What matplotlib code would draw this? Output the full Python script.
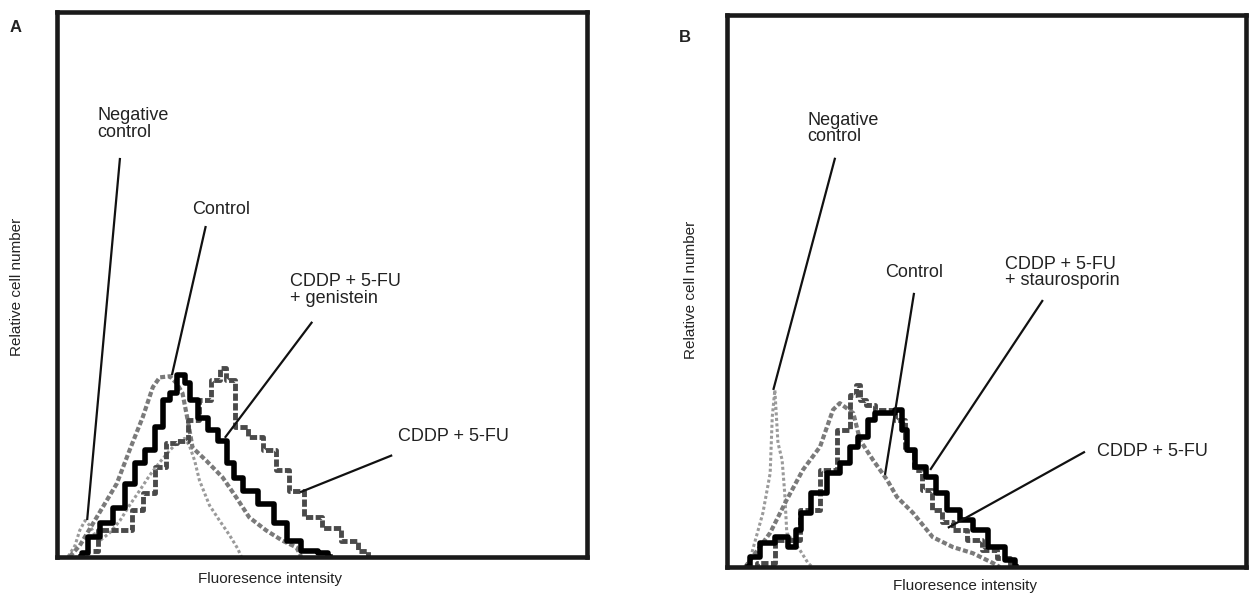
import numpy as np
import matplotlib
matplotlib.use("Agg")
import matplotlib.pyplot as plt

plt.rcParams["font.family"] = ["Liberation Sans", "DejaVu Sans"]

# ---- panel A histograms (fluorescence channel, relative cell number) ----
a_neg_x = [2.1, 3.4, 4.3, 5.3, 6.2, 7.2, 8.1, 10.0, 11.9, 13.7, 15.6, 17.5, 19.4,
           21.3, 22.8, 24.1, 25.0, 26.0, 26.9, 28.8, 30.7, 32.6, 34.1, 34.8]
a_neg_y = [0, 2.0, 4.8, 6.6, 5.7, 3.9, 2.9, 4.4, 6.6, 9.4, 12.1, 14.9, 17.3,
           19.5, 21.0, 21.7, 20.4, 17.6, 14.0, 9.4, 6.6, 3.9, 1.5, 0]

a_ctrl_x = [2.4, 4.3, 7.5, 11.3, 13.7, 16.2, 18.1, 19.4, 21.3, 22.6, 23.7, 24.7,
            25.6, 28.2, 31.3, 33.9, 36.3, 39.5, 42.6, 45.2, 46.1]
a_ctrl_y = [0, 2.0, 7.2, 13.4, 19.5, 25.6, 31.1, 32.9, 33.1, 31.8, 30.0, 25.0,
            20.0, 17.6, 14.5, 10.8, 7.2, 4.8, 2.9, 1.7, 0]

a_gen_x = [4.5, 4.9, 6.8, 9.4, 11.9, 13.7, 15.6, 17.5, 19.4, 20.7, 21.8, 23.7,
           24.5, 25.6, 27.5, 29.4, 31.3, 33.1, 33.9, 36.3, 39.5, 42.6, 44.4,
           47.6, 50.8, 51.5]
a_gen_y = [0, 0.6, 3.5, 6.1, 9.0, 13.4, 17.1, 19.5, 23.7, 28.7, 30.0, 33.3,
           31.8, 28.7, 25.5, 23.2, 21.3, 17.1, 14.5, 12.1, 9.7, 6.1, 2.9,
           1.1, 0.6, 0]

a_cf_x = [6.8, 8.7, 13.2, 15.1, 17.5, 19.4, 21.8, 23.7, 25.6, 28.2, 30.1, 31.3,
          32.6, 34.5, 37.7, 40.1, 42.6, 45.2, 48.2, 52.0, 55.2, 58.4, 58.9]
a_cf_y = [1.1, 4.8, 4.8, 8.5, 11.6, 16.4, 20.8, 21.3, 25.0, 28.7, 32.4, 34.7,
          32.4, 23.7, 21.9, 19.5, 15.8, 12.1, 7.2, 5.3, 2.9, 1.1, 0]

# ---- panel B histograms ----
b_neg_x = [3.6, 4.5, 7.0, 8.4, 8.8, 9.3, 9.9, 10.7, 11.2, 11.6, 14.1, 15.7, 16.5]
b_neg_y = [0, 1.3, 9.8, 17.0, 27.2, 32.1, 22.5, 19.4, 13.4, 6.2, 3.1, 0.7, 0]

b_ctrl_x = [3.6, 8.4, 11.6, 14.7, 18.0, 20.5, 21.8, 24.4, 25.7, 28.2, 30.9,
            32.8, 35.9, 39.7, 43.6, 47.4, 51.3, 52.6]
b_ctrl_y = [0, 6.2, 12.2, 17.6, 21.8, 28.5, 29.7, 27.9, 23.0, 19.4, 15.8,
            12.7, 9.8, 5.4, 3.6, 2.5, 0.7, 0]

b_stau_x = [4.1, 5.1, 7.8, 10.7, 12.8, 13.8, 14.7, 18.0, 20.5, 23.2, 24.4, 26.3,
            28.2, 29.0, 31.5, 33.4, 34.0, 35.3, 37.2, 39.7, 41.1, 43.6, 46.2,
            48.8, 52.0, 55.2, 55.7]
b_stau_y = [0, 1.8, 4.4, 5.4, 3.6, 6.7, 9.8, 13.4, 17.0, 18.9, 21.8, 23.6,
            26.7, 27.9, 27.9, 28.5, 24.9, 21.2, 18.1, 16.3, 13.4, 10.3, 8.5,
            6.7, 3.6, 1.3, 0]

b_cf_x = [5.5, 6.4, 12.2, 16.1, 19.9, 22.8, 24.7, 25.3, 26.1, 27.6, 29.5, 31.5,
          33.4, 35.3, 36.7, 38.6, 40.5, 42.4, 44.9, 47.8, 50.7, 53.6, 55.5]
b_cf_y = [0, 0.7, 4.9, 10.3, 17.6, 24.8, 31.2, 33.0, 30.3, 29.4, 28.5, 28.5,
          26.7, 21.2, 17.6, 14.0, 10.3, 8.2, 6.7, 4.9, 3.1, 1.6, 0.4]

STY_NEG = dict(color="#9a9a9a", lw=2.2, ls=(0, (1, 0.8)), drawstyle="default")
STY_CTRL = dict(color="#7a7a7a", lw=3.0, ls=(0, (1.2, 0.6)), drawstyle="default")
STY_BOLD = dict(color="black", lw=4.0, ls="-", drawstyle="steps-mid")
STY_CF = dict(color="#4a4a4a", lw=3.5, ls=(0, (1.5, 0.5)), drawstyle="steps-mid")

TXT = 13


def frame(ax):
    ax.set_xlim(0, 100)
    ax.set_ylim(0, 100)
    ax.set_xticks([])
    ax.set_yticks([])
    for s in ax.spines.values():
        s.set_linewidth(3.3)
        s.set_color("#1a1a1a")


def pointer(ax, text, tpos, start, end, va="top"):
    ax.text(tpos[0], tpos[1], text, fontsize=TXT, va=va, ha="left",
            color="#222222", linespacing=0.95)
    ax.plot([start[0], end[0]], [start[1], end[1]], color="#111111", lw=1.6,
            solid_capstyle="butt")


fig = plt.figure(figsize=(12.52, 5.94), dpi=100)

axA = fig.add_axes([0.0455, 0.0631, 0.4230, 0.9167])
frame(axA)
axA.plot(a_neg_x, a_neg_y, **STY_NEG)
axA.plot(a_ctrl_x, a_ctrl_y, **STY_CTRL)
axA.plot(a_cf_x, a_cf_y, **STY_CF)
axA.plot(a_gen_x, a_gen_y, **STY_BOLD)
pointer(axA, "Negative\ncontrol", (7.7, 82.5), (11.9, 73.2), (5.7, 6.7))
pointer(axA, "Control", (25.5, 65.3), (28.1, 60.7), (21.7, 33.3))
pointer(axA, "CDDP + 5-FU\n+ genistein", (44.0, 52.0), (48.2, 43.1), (31.7, 21.8))
pointer(axA, "CDDP + 5-FU", (64.4, 22.0), (63.3, 18.6), (45.9, 11.8), va="center")

axB = fig.add_axes([0.5803, 0.0455, 0.4149, 0.9285])
frame(axB)
axB.plot(b_neg_x, b_neg_y, **STY_NEG)
axB.plot(b_ctrl_x, b_ctrl_y, **STY_CTRL)
axB.plot(b_cf_x, b_cf_y, **STY_CF)
axB.plot(b_stau_x, b_stau_y, **STY_BOLD)
pointer(axB, "Negative\ncontrol", (15.5, 82.5), (20.9, 74.2), (9.0, 32.1))
pointer(axB, "Control", (30.5, 55.0), (36.1, 49.7), (30.5, 16.7))
pointer(axB, "CDDP + 5-FU\n+ staurosporin", (53.6, 56.4), (60.9, 48.4), (39.2, 17.6))
pointer(axB, "CDDP + 5-FU", (71.3, 21.0), (69.0, 20.9), (42.6, 7.1), va="center")

# axis labels and panel letters
fig.text(270 / 1252, 1 - 579 / 594, "Fluoresence intensity", fontsize=11,
         ha="center", va="center", color="#222222")
fig.text(965 / 1252, 1 - 586 / 594, "Fluoresence intensity", fontsize=11,
         ha="center", va="center", color="#222222")
fig.text(17 / 1252, 1 - 287 / 594, "Relative cell number", fontsize=11,
         rotation=90, ha="center", va="center", color="#222222")
fig.text(691 / 1252, 1 - 290 / 594, "Relative cell number", fontsize=11,
         rotation=90, ha="center", va="center", color="#222222")
fig.text(16 / 1252, 1 - 27 / 594, "A", fontsize=12, fontweight="bold",
         ha="center", va="center", color="#222222")
fig.text(685 / 1252, 1 - 38 / 594, "B", fontsize=12, fontweight="bold",
         ha="center", va="center", color="#222222")

fig.savefig("out.png", dpi=100)
